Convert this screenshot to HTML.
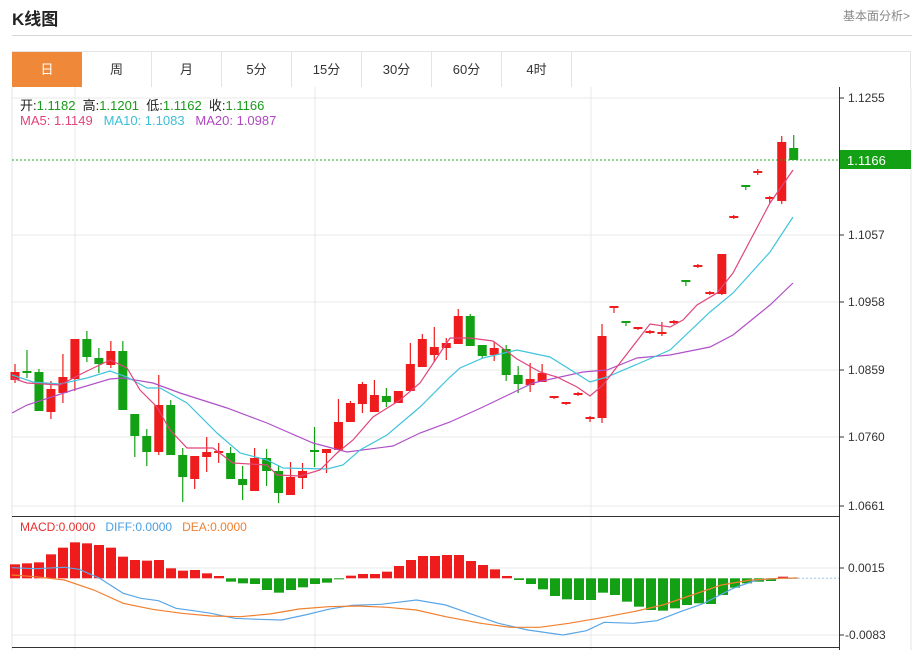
<!DOCTYPE html>
<html><head><meta charset="utf-8">
<style>
body{margin:0;background:#fff;font-family:"Liberation Sans","Noto Sans CJK SC",sans-serif;}
#wrap{position:relative;width:915px;height:650px;overflow:hidden;}
.t{position:absolute;white-space:nowrap;}
.tab{position:absolute;top:52px;height:35px;width:70px;line-height:35px;text-align:center;font-size:13px;color:#333;border-right:1px solid #e4e4e4;box-sizing:border-box;}
</style></head><body>
<div id="wrap">
<div class="t" style="left:12px;top:5px;font-size:17px;font-weight:bold;color:#222;">K线图</div>
<div class="t" style="left:843px;top:7px;font-size:12px;color:#888;">基本面分析&gt;</div>
<div style="position:absolute;left:12px;top:35px;width:900px;height:1px;background:#d6d6d6"></div>
<div style="position:absolute;left:12px;top:51px;width:899px;height:36px;border:1px solid #e4e4e4;box-sizing:border-box;border-bottom:none"></div>
<div class="tab" style="left:12px;background:#f0883a;color:#fff;border:none">日</div>
<div class="tab" style="left:82px">周</div>
<div class="tab" style="left:152px">月</div>
<div class="tab" style="left:222px">5分</div>
<div class="tab" style="left:292px">15分</div>
<div class="tab" style="left:362px">30分</div>
<div class="tab" style="left:432px">60分</div>
<div class="tab" style="left:502px">4时</div>
<svg id="s" width="915" height="650" style="position:absolute;left:0;top:0"></svg>
<div class="t" style="left:20px;top:95px;font-size:13px;color:#222">开:<span style="color:#1a9a1a">1.1182</span>&nbsp;&nbsp;高:<span style="color:#1a9a1a">1.1201</span>&nbsp;&nbsp;低:<span style="color:#1a9a1a">1.1162</span>&nbsp;&nbsp;收:<span style="color:#1a9a1a">1.1166</span></div>
<div class="t" style="left:20px;top:113px;font-size:13px"><span style="color:#e0457b">MA5: 1.1149</span>&nbsp;&nbsp;&nbsp;<span style="color:#3bbfd8">MA10: 1.1083</span>&nbsp;&nbsp;&nbsp;<span style="color:#b048c0">MA20: 1.0987</span></div>
<div class="t" style="left:20px;top:520px;font-size:12px"><span style="color:#e83030">MACD:0.0000</span>&nbsp;&nbsp;&nbsp;<span style="color:#4a9ee0">DIFF:0.0000</span>&nbsp;&nbsp;&nbsp;<span style="color:#f08030">DEA:0.0000</span></div>
</div>
<script>
var s=document.getElementById('s'),h='';
function L(x1,y1,x2,y2,c,w,d){h+='<line x1="'+x1+'" y1="'+y1+'" x2="'+x2+'" y2="'+y2+'" stroke="'+c+'" stroke-width="'+(w||1)+'"'+(d?' stroke-dasharray="'+d+'"':'')+'/>';}
function T(x,y,t,c,sz){h+='<text x="'+x+'" y="'+y+'" fill="'+(c||'#333')+'" font-size="'+(sz||12)+'" font-family="Liberation Sans,sans-serif">'+t+'</text>';}
// grid
[98,235,302,370,437,506].forEach(function(y){L(12,y,839,y,'#e8e8e8');});
[568,635].forEach(function(y){L(12,y,839,y,'#e8e8e8');});
[75,315,591].forEach(function(x){L(x,87,x,650,'#e8e8e8');});
L(12,87,12,650,'#e4e4e4');L(911,87,911,650,'#e4e4e4');
L(12,516.5,839,516.5,'#333');L(12,647.5,839,647.5,'#333');
L(839.5,87,839.5,650,'#333');
var labs=[[98,'1.1255'],[235,'1.1057'],[302,'1.0958'],[370,'1.0859'],[437,'1.0760'],[506,'1.0661'],[568,'0.0015'],[635,'-0.0083']];
labs.forEach(function(a){L(839,a[0],844,a[0],'#333');T(a[1][0]=='-'?845:848,a[0]+4,a[1],'#333',12);});
// candles
var c=[[372,380,364,383,1],[371,373,350,378,0],[372,411,369,411,0],[389,412,381,419,1],[377,393,354,403,1],[339,379,339,391,1],[339,357,331,362,0],[358,364,348,373,0],[351,365,341,368,1],[351,410,341,410,0],[414,436,414,457,0],[436,452,429,466,0],[405,452,375,455,1],[405,455,400,455,0],[455,477,448,502,0],[456,479,456,489,1],[452,457,437,472,1],[451,453,443,463,1],[453,479,447,479,0],[479,485,466,500,0],[458,491,448,491,1],[458,471,449,486,0],[471,493,465,503,0],[477,495,462,495,1],[471,478,463,489,1],[450,452,427,467,0],[449,453,449,473,1],[422,450,399,450,1],[403,422,401,422,1],[384,404,382,413,1],[395,412,380,412,1],[396,402,388,407,0],[391,403,391,403,1],[364,391,343,391,1],[339,367,334,367,1],[347,355,327,362,1],[343,348,338,360,1],[316,344,309,344,1],[316,346,314,346,0],[345,356,345,358,0],[348,355,342,361,1],[349,375,345,381,0],[375,384,366,393,0],[379,385,363,392,1],[373,382,364,382,1],[396,398,396,399,1],[402,404,402,405,1],[393,395,392,396,1],[417,419,416,422,1],[336,418,324,423,1],[306,308,306,313,1],[321,323,321,326,0],[327,329,327,330,1],[331,333,330,334,1],[332,334,322,336,1],[321,323,320,324,1],[280,282,280,286,0],[265,267,264,268,1],[292,294,291,295,1],[254,294,254,295,1],[216,218,215,219,1],[185,187,185,190,0],[171,173,169,175,1],[197,199,196,203,1],[142,201,136,204,1],[148,160,135,160,0]];
c.forEach(function(d,i){var x=15+i*11.98,col=d[4]?'#ee1c1c':'#14a014';
L(x,d[2],x,d[3],col,1.2);h+='<rect x="'+(x-4.5)+'" y="'+d[0]+'" width="9" height="'+Math.max(2,d[1]-d[0])+'" fill="'+col+'"/>';});
function P(pts,col,sx,sy,ox,oy){var p=[];for(var i=0;i<pts.length;i+=2)p.push((pts[i]/sx+ox).toFixed(1)+','+(pts[i+1]/sy+oy).toFixed(1));h+='<polyline points="'+p.join(' ')+'" fill="none" stroke="'+col+'" stroke-width="1.2"/>';}
P([12,413,27,405,73,390,110,379,123,378,153,383,180,393,227,408,267,423,313,443,347,452,393,446,420,433,450,422,483,407,533,383,583,372,607,370,637,358,670,355,710,347,733,335,770,305,793,283],'#b050c8',1,1,0,0);
P([12,375,33,382,60,384,87,378,110,371,127,377,147,388,160,388,187,403,217,433,240,453,267,460,283,468,327,469,343,465,360,450,387,435,420,407,450,377,460,368,483,358,517,350,550,357,590,382,607,377,640,363,670,350,710,312,733,293,770,252,793,217],'#40c4dc',1,1,0,0);
P([12,378,27,383,60,385,83,373,110,360,127,368,140,390,157,407,170,430,187,448,213,448,233,463,267,465,277,475,300,476,320,470,337,453,353,440,373,417,400,400,420,383,450,338,470,338,493,341,517,359,540,372,557,377,577,387,590,396,603,385,650,324,670,327,683,320,697,305,717,293,733,273,770,203,793,170],'#e0457b',1,1,0,0);
// current price
L(12,160,839,160,'#22aa22',1,'2,2');
h+='<rect x="840" y="150" width="71" height="19" fill="#14a014"/>';T(847,165,'1.1166','#fff',13);
// MACD hist
var m=[163,160,157,133,113,97,100,105,113,140,150,152,150,175,182,180,190,198,215,220,222,240,248,240,232,222,218,208,197,192,192,185,168,150,138,138,135,135,153,165,178,198,210,222,238,258,268,270,270,248,255,275,290,300,302,295,285,280,282,255,233,220,215,213,200];
var z=578.3;
m.forEach(function(v,i){var x=15+i*12,y=510+v/3,col=v<205?'#ee1c1c':'#14a014';var t=Math.min(y,z),hh=Math.max(1,Math.abs(y-z));h+='<rect x="'+(x-5)+'" y="'+t+'" width="10" height="'+hh+'" fill="'+col+'"/>';});
L(790,z,839,z,'#9cc8e8',1,'2,2');
P([20,173,60,176,110,172,135,178,170,205,210,250,240,265,270,272,300,295,330,302,360,310,400,325,440,328,480,330,520,315,560,298,600,286,650,283,710,270,760,285,800,310,850,340,900,360,960,375,1000,362,1030,337,1080,340,1120,332,1160,305,1200,280,1250,235,1290,210,1330,205,1360,204],'#5aa6e6',1.705,3,0,510);
P([20,195,60,200,110,210,160,240,210,280,260,298,310,310,360,318,410,320,460,312,510,297,560,290,610,288,660,292,710,300,760,320,820,340,870,352,920,352,970,340,1020,325,1080,305,1130,285,1180,255,1230,225,1280,210,1330,205,1360,204],'#f08030',1.705,3,0,510);
s.innerHTML=h;
</script>
</body></html>
